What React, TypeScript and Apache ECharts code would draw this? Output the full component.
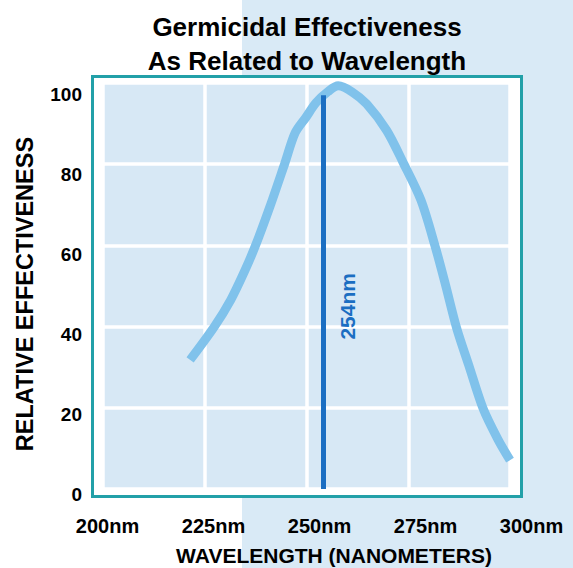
import React, { useEffect, useRef } from "react";
import * as echarts from "echarts";

const wavelengthNm = [221.4, 227.3, 231.4, 234.9, 237.6, 241.0, 244.7, 247.2, 249.9, 252.3, 255.3, 257.8, 261.2, 264.8, 269.7, 273.7, 278.1, 281.6, 284.0, 286.9, 289.9, 293.4, 297.0, 300];
const effectiveness = [31.8, 39.9, 46.6, 53.9, 60.3, 69.5, 80.3, 87.7, 91.6, 95.1, 97.9, 99.3, 97.8, 94.8, 88.3, 80.5, 71.2, 59.8, 50.9, 39.6, 30.4, 19.8, 12.3, 7.1];
const markerNm = 254;
const markerTop = 97;
const markerLabel = "254nm";
const labelAnchor = 45;
const xTickValues = [200, 225, 250, 275, 300];
const yTickValues = [0, 20, 40, 60, 80, 100];

const FONT = "'Liberation Sans', Arial, Helvetica, sans-serif";

export default function App() {
  const ref = useRef<HTMLDivElement>(null);
  useEffect(() => {
    if (!ref.current) return;
    const chart = echarts.init(ref.current, undefined, { renderer: "svg" });
    const curve = wavelengthNm.map((x, i) => [x, effectiveness[i]]);
    chart.setOption({
      animation: false,
      backgroundColor: "#ffffff",
      textStyle: { fontFamily: FONT },
      title: [
        {
          text: "Germicidal Effectiveness\nAs Related to Wavelength",
          left: 307,
          top: 9.5,
          padding: 0,
          textAlign: "center",
          textStyle: { fontSize: 26, fontWeight: "bold", color: "#000", lineHeight: 34.5, fontFamily: FONT },
        },
        {
          text: "WAVELENGTH (NANOMETERS)",
          left: 334,
          top: 545,
          padding: 0,
          textAlign: "center",
          textStyle: { fontSize: 21, fontWeight: "bold", color: "#000", fontFamily: FONT },
        },
      ],
      graphic: [
        {
          type: "rect",
          z: -20,
          silent: true,
          shape: { x: 242, y: 0, width: 331, height: 568 },
          style: { fill: "#d9eaf6" },
        },
        {
          type: "rect",
          z: -10,
          silent: true,
          shape: { x: 92.5, y: 76.5, width: 429, height: 420 },
          style: { fill: "#ffffff", stroke: "#22a0a8", lineWidth: 3 },
        },
      ],
      grid: [
        {
          left: 103,
          top: 83,
          width: 407,
          height: 406,
          show: true,
          backgroundColor: "#d7e8f5",
          borderWidth: 0,
        },
        {
          left: 107.5,
          top: 94,
          width: 424,
          height: 400,
          show: false,
        },
      ],
      xAxis: [
        {
          type: "value",
          gridIndex: 0,
          min: 200,
          max: 300,
          interval: 25,
          axisLine: { show: false },
          axisTick: { show: false },
          axisLabel: { show: false },
          splitLine: { show: true, lineStyle: { color: "#ffffff", width: 3.5 } },
        },
        {
          type: "value",
          gridIndex: 1,
          min: 200,
          max: 300,
          interval: 25,
          axisLine: { show: false },
          axisTick: { show: false },
          splitLine: { show: false },
          axisLabel: {
            show: true,
            margin: 22,
            fontSize: 20,
            fontWeight: "bold",
            color: "#000",
            fontFamily: FONT,
            formatter: (v: number) => (xTickValues.includes(v) ? `${v}nm` : ""),
          },
        },
      ],
      yAxis: [
        {
          type: "value",
          gridIndex: 0,
          min: 0,
          max: 100,
          interval: 20,
          axisLine: { show: false },
          axisTick: { show: false },
          axisLabel: { show: false },
          splitLine: { show: true, lineStyle: { color: "#ffffff", width: 3.5 } },
        },
        {
          type: "value",
          gridIndex: 1,
          min: 0,
          max: 100,
          interval: 20,
          axisLine: { show: false },
          axisTick: { show: false },
          splitLine: { show: false },
          name: "RELATIVE EFFECTIVENESS",
          nameLocation: "middle",
          nameRotate: 90,
          nameGap: 71,
          nameTextStyle: { fontSize: 23.5, fontWeight: "bold", color: "#000", fontFamily: FONT },
          axisLabel: {
            show: true,
            margin: 25.5,
            fontSize: 19,
            fontWeight: "bold",
            color: "#000",
            fontFamily: FONT,
            formatter: (v: number) => (yTickValues.includes(v) ? `${v}` : ""),
          },
        },
      ],
      series: [
        {
          type: "line",
          xAxisIndex: 0,
          yAxisIndex: 0,
          data: curve,
          smooth: 0.3,
          showSymbol: false,
          symbol: "none",
          lineStyle: { color: "#80c2eb", width: 9 },
          z: 3,
          markLine: {
            silent: true,
            symbol: "none",
            animation: false,
            label: { show: false },
            lineStyle: { color: "#1b6ec2", width: 5, type: "solid", opacity: 1 },
            data: [[{ coord: [markerNm, 0] }, { coord: [markerNm, markerTop] }]],
          },
        },
        {
          type: "scatter",
          xAxisIndex: 0,
          yAxisIndex: 0,
          data: [[markerNm, labelAnchor]],
          symbolSize: 0,
          silent: true,
          itemStyle: { opacity: 1 },
          label: {
            show: true,
            position: "inside",
            rotate: 90,
            offset: [0, 25],
            formatter: markerLabel,
            fontSize: 21,
            fontWeight: "bold",
            color: "#1b6ec2",
            opacity: 1,
            fontFamily: FONT,
          },
          z: 4,
        },
      ],
    });
    return () => chart.dispose();
  }, []);
  return (
    <div
      ref={ref}
      style={{ position: "fixed", left: 0, top: 0, width: 573, height: 568 }}
    />
  );
}
